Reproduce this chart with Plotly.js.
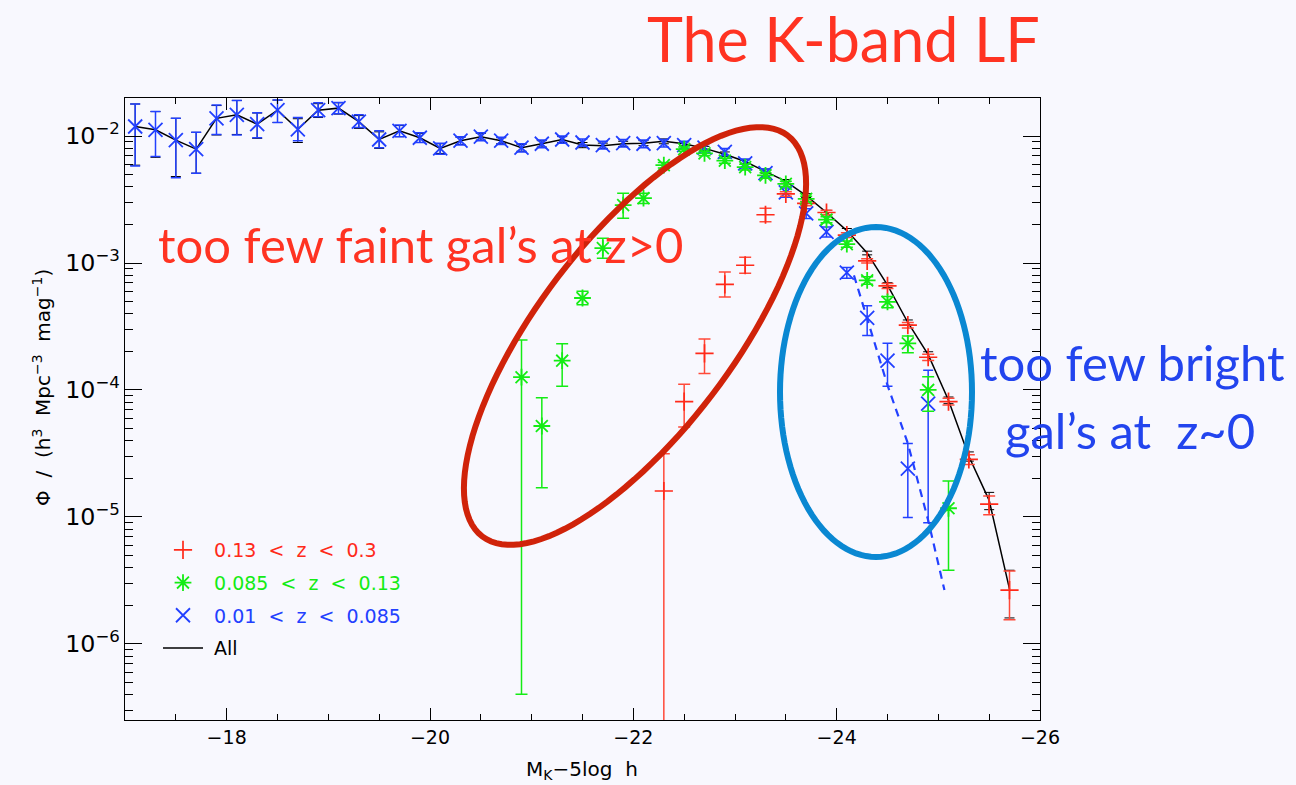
<!DOCTYPE html>
<html>
<head>
<meta charset="utf-8">
<script src="https://cdn.plot.ly/plotly-3.0.1.min.js"></script>
<style>html,body{margin:0;padding:0;background:#f8f8fe;}</style>
</head>
<body>
<div id="chart" style="width:1296px;height:785px;"></div>
<script>
// ---------- DATA ----------
// All galaxies (black line)
const allX = [-17.1,-17.3,-17.5,-17.7,-17.9,-18.1,-18.3,-18.5,-18.7,-18.9,-19.1,-19.3,-19.5,-19.7,-19.9,-20.1,-20.3,-20.5,-20.7,-20.9,-21.1,-21.3,-21.5,-21.7,-21.9,-22.1,-22.3,-22.5,-22.7,-22.9,-23.1,-23.3,-23.5,-23.7,-23.9,-24.1,-24.3,-24.5,-24.7,-24.9,-25.1,-25.3,-25.5,-25.7];
const allY = [0.0119,0.0112,0.0093,0.0079,0.0138,0.0147,0.0124,0.0160,0.0113,0.0160,0.0166,0.0130,0.0094,0.0110,0.0097,0.0080,0.0092,0.0099,0.0092,0.0081,0.0087,0.0094,0.0085,0.0084,0.0087,0.0088,0.0091,0.0087,0.0080,0.0072,0.0063,0.0053,0.0044,0.0034,0.0025,0.0018,0.0012,0.00067,0.00034,0.00019,0.000083,0.000030,0.0000135,0.0000027];
const allErr = [0.0060,0.0044,0.0045,0.0028,0.0036,0.0044,0.0028,0.0032,0.0024,0.0020,0.0017,0.0015,0.0014,0.0011,0.0008,0.0007,0.0006,0.0006,0.0005,0.0005,0.0005,0.0005,0.0004,0.0004,0.0004,0.0004,0.0004,0.0003,0.0003,0.0003,0.0002,0.0002,0.00015,0.00012,0.0001,0.00007,0.00004,0.00003,0.000016,0.00001,0.000005,0.0000025,0.0000021,0.0000011];

// 0.01 < z < 0.085 (blue crosses)
const blueX = [-17.1,-17.3,-17.5,-17.7,-17.9,-18.1,-18.3,-18.5,-18.7,-18.9,-19.1,-19.3,-19.5,-19.7,-19.9,-20.1,-20.3,-20.5,-20.7,-20.9,-21.1,-21.3,-21.5,-21.7,-21.9,-22.1,-22.3,-22.5,-22.7,-22.9,-23.1,-23.3,-23.5,-23.7,-23.9,-24.1,-24.3,-24.5,-24.7,-24.9];
const blueY = [0.0119,0.0112,0.0093,0.0079,0.0138,0.0147,0.0124,0.0160,0.0113,0.0160,0.0166,0.0130,0.0094,0.0110,0.0097,0.0080,0.0092,0.0099,0.0092,0.0081,0.0087,0.0094,0.0089,0.0085,0.0088,0.0087,0.0088,0.0085,0.0081,0.0075,0.0061,0.0051,0.0036,0.00246,0.00176,0.00084,0.00037,0.00017,0.000024,0.000078];
const blueErrPlus = [0.0060,0.0044,0.0045,0.0028,0.0038,0.0044,0.0029,0.0032,0.0027,0.0023,0.0018,0.0017,0.0016,0.0012,0.0009,0.0008,0.0007,0.0007,0.0006,0.0006,0.0006,0.0006,0.0006,0.0006,0.0006,0.0006,0.0006,0.0006,0.0006,0.0005,0.0005,0.0004,0.0003,0.00022,0.00016,0.00008,0.000091,0.000063,0.0000138,0.000065];
const blueErrMinus = [0.0061,0.0043,0.0046,0.0028,0.0035,0.0045,0.0027,0.0032,0.0021,0.0018,0.0016,0.0013,0.0013,0.0011,0.0008,0.0008,0.0007,0.0007,0.0006,0.0006,0.0006,0.0006,0.0006,0.0006,0.0006,0.0006,0.0006,0.0006,0.0006,0.0005,0.0005,0.0004,0.0003,0.00022,0.00016,0.00008,0.000101,0.000063,0.0000141,0.000069];

// 0.085 < z < 0.13 (green asterisks)
const greenX = [-20.9,-21.1,-21.3,-21.5,-21.7,-21.9,-22.1,-22.3,-22.5,-22.7,-22.9,-23.1,-23.3,-23.5,-23.7,-23.9,-24.1,-24.3,-24.5,-24.7,-24.9,-25.1];
const greenY = [0.000126,0.000052,0.000170,0.00053,0.00131,0.00286,0.00324,0.0059,0.0079,0.0073,0.0064,0.0057,0.0049,0.0042,0.0032,0.0022,0.00141,0.00073,0.000495,0.000233,0.000100,0.0000117];
const greenErrPlus = [0.000121,0.000035,0.000061,0.00007,0.00026,0.00068,0.0003,0.0003,0.0003,0.0003,0.0003,0.0003,0.00025,0.0002,0.00016,0.00012,0.00008,0.00005,0.00005,0.000033,0.000027,0.0000075];
const greenErrMinus = [0.0001256,0.000035,0.000063,0.00006,0.00022,0.00061,0.0003,0.0003,0.0003,0.0003,0.0003,0.0003,0.00025,0.0002,0.00016,0.00012,0.00008,0.00005,0.00005,0.000037,0.000032,0.0000079];

// 0.13 < z < 0.3 (red plus)
const redX = [-22.3,-22.5,-22.7,-22.9,-23.1,-23.3,-23.5,-23.7,-23.9,-24.1,-24.3,-24.5,-24.7,-24.9,-25.1,-25.3,-25.5,-25.7];
const redY = [0.000016,0.000081,0.000194,0.00068,0.00096,0.0024,0.0035,0.00295,0.0025,0.00166,0.00104,0.00066,0.000324,0.000181,0.000081,0.0000284,0.0000126,0.00000265];
const redErrPlus = [0.0000155,0.000030,0.000058,0.00017,0.00015,0.00030,0.00015,0.00012,0.0001,0.00007,0.00004,0.00003,0.000016,0.00001,0.000005,0.0000025,0.0000020,0.0000011];
const redErrMinus = [0.000016,0.000030,0.000059,0.00014,0.00013,0.00029,0.00015,0.00012,0.0001,0.00007,0.00004,0.00003,0.000016,0.00001,0.000005,0.0000025,0.0000022,0.0000011];

// dashed blue model curve
const modelX = [-24.17,-24.5,-24.7,-24.9,-25.06];
const modelY = [0.00080,0.000109,0.000038,0.0000094,0.00000265];

// labels
const legendNames = ['\u00a00.13\u00a0\u00a0&lt;\u00a0\u00a0z\u00a0\u00a0&lt;\u00a0\u00a00.3',
                     '\u00a00.085\u00a0\u00a0&lt;\u00a0\u00a0z\u00a0\u00a0&lt;\u00a0\u00a00.13',
                     '\u00a00.01\u00a0\u00a0&lt;\u00a0\u00a0z\u00a0\u00a0&lt;\u00a0\u00a00.085',
                     '\u00a0All'];
const titleText = 'The K-band LF';
const noteFaint = 'too few faint gal\u2019s at z&gt;0';
const noteBright1 = 'too few bright';
const noteBright2 = 'gal\u2019s at  z~0';
const yTitle = '\u03A6\u00a0\u00a0/\u00a0\u00a0(h<sup>3</sup>\u00a0\u00a0Mpc<sup>\u22123</sup>\u00a0\u00a0mag<sup>\u22121</sup>)';
const xTitle = 'M<sub>K</sub>\u22125log\u00a0\u00a0h';

// ---------- STYLE / LAYOUT HELPERS ----------
const L = 125, R = 1040, T = 98, B = 720;
const px2x = p => (p - L) / (R - L);
const py2y = p => (B - p) / (B - T);
function ellipsePath(cx, cy, a, b, thDeg) {
  const th = thDeg * Math.PI / 180;
  let d = '';
  for (let i = 0; i <= 120; i++) {
    const t = 2 * Math.PI * i / 120;
    const ux = a * Math.cos(t), uy = b * Math.sin(t);
    const px = cx + ux * Math.cos(th) - uy * Math.sin(th);
    const py = cy - (ux * Math.sin(th) + uy * Math.cos(th));
    d += (i === 0 ? 'M' : 'L') + px2x(px).toFixed(5) + ',' + py2y(py).toFixed(5);
  }
  return d + 'Z';
}

const RED = '#ff2a1a', GREEN = '#14ec14', BLUE = '#2240ff';
const tickFont = {family: 'DejaVu Sans', size: 19, color: '#000'};

const traces = [
  {x: allX, y: allY, type: 'scatter', mode: 'lines', name: legendNames[3],
   legendrank: 4, legendgroup: 'd',
   line: {color: '#000', width: 1.5},
   error_y: {type: 'data', array: allErr, color: '#000', thickness: 1, width: 5}},
  {x: blueX, y: blueY, type: 'scatter', mode: 'markers', name: '<span style="color:' + BLUE + '">' + legendNames[2] + '</span>',
   legendrank: 3, legendgroup: 'c',
   marker: {symbol: 'x-thin-open', size: 14, color: BLUE, line: {color: BLUE, width: 1.8}},
   error_y: {type: 'data', symmetric: false, array: blueErrPlus, arrayminus: blueErrMinus, color: BLUE, thickness: 1.5, width: 5}},
  {x: redX, y: redY, type: 'scatter', mode: 'markers', name: '<span style="color:' + RED + '">' + legendNames[0] + '</span>',
   legendrank: 1, legendgroup: 'a',
   marker: {symbol: 'cross-thin-open', size: 13, color: RED, line: {color: RED, width: 1.7}},
   error_y: {type: 'data', symmetric: false, array: redErrPlus, arrayminus: redErrMinus, color: '#ff4a3a', thickness: 1.5, width: 6}},
  {x: greenX, y: greenY, type: 'scatter', mode: 'markers', name: '<span style="color:' + GREEN + '">' + legendNames[1] + '</span>',
   legendrank: 2, legendgroup: 'b',
   marker: {symbol: 'asterisk-open', size: 14, color: GREEN, line: {color: GREEN, width: 1.8}},
   error_y: {type: 'data', symmetric: false, array: greenErrPlus, arrayminus: greenErrMinus, color: GREEN, thickness: 1.5, width: 6}},
  {x: modelX, y: modelY, type: 'scatter', mode: 'lines', showlegend: false,
   line: {color: BLUE, width: 2.2, dash: '8px,6px'}}
];

const layout = {
  width: 1296, height: 785, autosize: false,
  margin: {l: L, r: 1296 - R, t: T, b: 785 - B, pad: 0},
  paper_bgcolor: '#f8f8fe', plot_bgcolor: '#f8f8fe',
  font: {family: 'DejaVu Sans', color: '#000'},
  showlegend: true,
  legend: {x: px2x(158), y: py2y(531), xanchor: 'left', yanchor: 'top',
           bgcolor: 'rgba(0,0,0,0)', borderwidth: 0, traceorder: 'grouped', tracegroupgap: 5,
           font: {family: 'DejaVu Sans', size: 19, color: '#000'}, itemwidth: 40},
  xaxis: {range: [-17, -26], tickmode: 'linear', tick0: 0, dtick: 2,
          ticks: 'inside', ticklen: 12, tickwidth: 1, tickcolor: '#000',
          minor: {tickmode: 'linear', tick0: 0, dtick: 0.5, ticks: 'inside', ticklen: 6, tickwidth: 1, tickcolor: '#000', showgrid: false},
          showline: true, linecolor: '#000', linewidth: 1.3, mirror: 'allticks',
          showgrid: false, zeroline: false, tickfont: tickFont},
  yaxis: {type: 'log', range: [-6.6, -1.7], tickmode: 'linear', tick0: 0, dtick: 1, exponentformat: 'power',
          ticks: 'inside', ticklen: 17, tickwidth: 1, tickcolor: '#000',
          minor: {dtick: 'D1', ticks: 'inside', ticklen: 8, tickwidth: 1, tickcolor: '#000', showgrid: false},
          showline: true, linecolor: '#000', linewidth: 1.3, mirror: 'allticks',
          showgrid: false, zeroline: false, tickfont: tickFont},
  shapes: [
    {type: 'path', xref: 'paper', yref: 'paper', path: ellipsePath(635, 336, 252, 97, 52.7),
     line: {color: '#d0230a', width: 6}, layer: 'above'},
    {type: 'path', xref: 'paper', yref: 'paper', path: ellipsePath(876, 392, 96, 165, 0),
     line: {color: '#0a88d2', width: 6}, layer: 'above'}
  ],
  annotations: [
    {text: titleText, xref: 'paper', yref: 'paper', x: px2x(1042), y: py2y(38), xanchor: 'right', yanchor: 'middle',
     showarrow: false, font: {family: 'Lato', size: 61, color: '#ff3322'}},
    {text: noteFaint, xref: 'paper', yref: 'paper', x: px2x(156), y: py2y(244), xanchor: 'left', yanchor: 'middle',
     showarrow: false, font: {family: 'Lato', size: 49, color: '#ff3322'}},
    {text: noteBright1, xref: 'paper', yref: 'paper', x: px2x(1132), y: py2y(362), xanchor: 'center', yanchor: 'middle',
     showarrow: false, font: {family: 'Lato', size: 49, color: '#2244ee'}},
    {text: noteBright2, xref: 'paper', yref: 'paper', x: px2x(1130), y: py2y(430), xanchor: 'center', yanchor: 'middle',
     showarrow: false, font: {family: 'Lato', size: 49, color: '#2244ee'}},
    {text: yTitle, xref: 'paper', yref: 'paper',
     x: px2x(42), y: py2y(388), xanchor: 'center', yanchor: 'middle', textangle: -90,
     showarrow: false, font: {family: 'DejaVu Sans', size: 20, color: '#000'}},
    {text: xTitle, xref: 'paper', yref: 'paper', x: px2x(582), y: py2y(770), xanchor: 'center', yanchor: 'middle',
     showarrow: false, font: {family: 'DejaVu Sans', size: 20, color: '#000'}}
  ]
};

Plotly.newPlot('chart', traces, layout, {displayModeBar: false, staticPlot: true});
</script>
</body>
</html>
